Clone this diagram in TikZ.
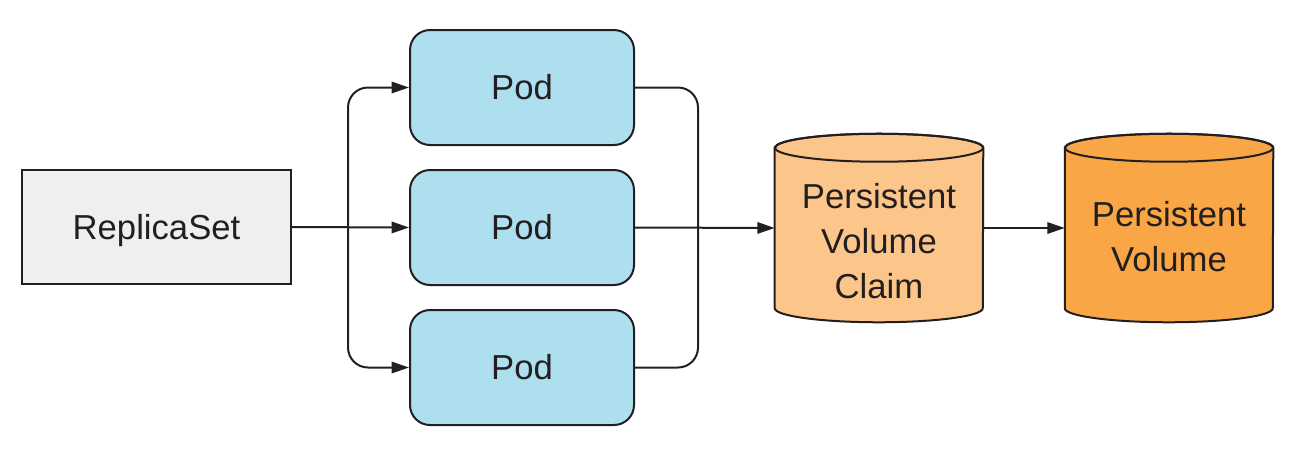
\documentclass[tikz,border=0pt]{standalone}
\usepackage{fontspec}
\setmainfont{Liberation Sans}
\usetikzlibrary{arrows.meta}
\definecolor{edge}{HTML}{231F20}
\definecolor{rsfill}{HTML}{EFEFEF}
\definecolor{podfill}{HTML}{ADDFEE}
\definecolor{pvcfill}{HTML}{FCC68B}
\definecolor{pvfill}{HTML}{F9A746}
\begin{document}
\begin{tikzpicture}[x=0.75pt,y=-0.75pt,
  every node/.style={font=\fontsize{26}{33.75}\selectfont, text=edge},
  rsbox/.style={draw=edge, line width=1.5pt, fill=rsfill, minimum width=201.75pt, minimum height=85.5pt, inner sep=0pt, text depth=0pt},
  podbox/.style={draw=edge, line width=1.5pt, fill=podfill, rounded corners=15pt, minimum width=168pt, minimum height=86.25pt, inner sep=0pt},
  cylbody/.style={minimum width=156pt, minimum height=120pt, inner sep=0pt},
  cyltext/.style={align=center, inner sep=0pt},
  conn/.style={draw=edge, line width=1.5pt},
  arr/.style={conn, -{Triangle[length=13pt,width=8.5pt]}},
  bus/.style={conn, rounded corners=15pt}
]
\useasboundingbox (0,0) rectangle (1298,451);
\node[rsbox] (rs) at (156.5,227) {ReplicaSet};
\node[podbox] (pod1) at (522,87.5) {Pod};
\node[podbox] (pod2) at (522,227.5) {Pod};
\node[podbox] (pod3) at (522,367.5) {Pod};
% cylinders
\node[cylbody] (pvc) at (879,228) {};
\node[cylbody] (pv) at (1169,228) {};
\foreach \c/\f in {pvc/pvcfill, pv/pvfill}{
  \path[fill=\f, draw=edge, line width=1.5pt] (\c.north west) -- (\c.south west)
    arc[start angle=180, end angle=360, x radius=78pt, y radius=10.5pt]
    -- (\c.north east)
    arc[start angle=0, end angle=180, x radius=78pt, y radius=10.5pt] -- cycle;
  \draw[edge, line width=1.5pt] (\c.north) ellipse[x radius=78pt, y radius=10.5pt];
}
\node[cyltext] (pvclabel) at (879,241) {Persistent\\Volume\\Claim};
\node[cyltext] (pvlabel) at (1169,236.5) {Persistent\\Volume};
% connectors
\coordinate (lb) at (348,227);
\coordinate (rb) at (698,227);
\draw[arr] (rs.east) -- (pod2.west);
\draw[bus, -{Triangle[length=13pt,width=8.5pt]}] (lb) |- (pod1.west);
\draw[bus, -{Triangle[length=13pt,width=8.5pt]}] (lb) |- (pod3.west);
\draw[bus] (pod1.east) -| (rb);
\draw[bus] (pod3.east) -| (rb);
\draw[arr] (pod2.east) -- (pvc.west);
\draw[arr] (pvc.east) -- (pv.west);
\end{tikzpicture}
\end{document}
